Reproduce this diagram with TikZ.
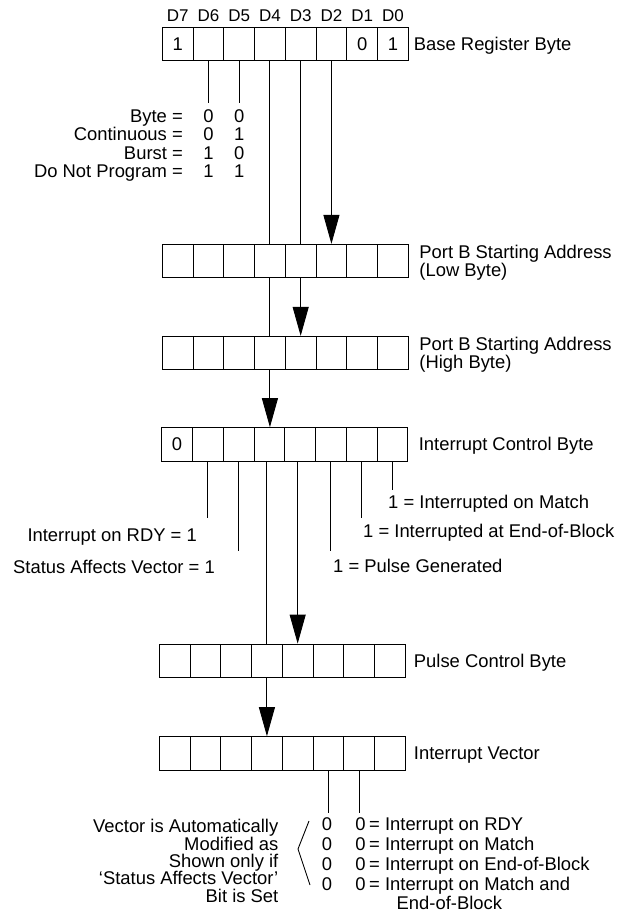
\documentclass[tikz,border=0pt]{standalone}
\usepackage{fontspec}
\setmainfont{Liberation Sans}
\usetikzlibrary{arrows.meta,positioning}

\begin{document}
\begin{tikzpicture}[x=1pt, y=-1pt,
    cell/.style={rectangle, draw, line width=0.9pt, minimum width=30.75pt, minimum height=33.3pt, inner sep=0pt},
    lbl/.style={font=\fontsize{18.4}{18.5}\selectfont, inner sep=0pt, text height=13.2pt, text depth=0pt},
    multi/.style={font=\fontsize{18.4}{18.5}\selectfont, inner sep=0pt},
    bitno/.style={font=\fontsize{17}{17}\selectfont, inner sep=0pt, text height=12.2pt, text depth=0pt},
    link/.style={line width=0.9pt},
    arrow/.style={-{Triangle[length=29pt, width=16pt]}, line width=0.9pt}
]
\useasboundingbox (0,0) rectangle (618,914);

% registers, eight cells each, D7 on the left
\foreach \r/\lx/\cy in {base/162.3/43.6, lowb/162.3/261, highb/162.3/353, intctl/161.7/444.3, pulse/159.3/660.7, vect/159.3/753.3}{
  \foreach \b [count=\k from 0] in {7,...,0}{
    \node[cell] (\r\b) at ({\lx+30.75*(\k+0.5)},\cy) {};
  }
}
\foreach \b in {7,...,0}{\node[bitno] (d\b) at ([yshift=11pt]base\b.north) {D\b};}
\node[lbl] (v7) at (base7) {1};
\node[lbl] (v1) at (base1) {0};
\node[lbl] (v0) at (base0) {1};
\node[lbl] (w7) at (intctl7) {0};

% register names
\node[lbl, right=5pt of base0] (baselbl) {Base Register Byte};
\node[multi, align=left, anchor=base west] (lowlbl) at ([xshift=10.5pt, yshift=-15.85pt]lowb0.east) {Port B Starting Address\\(Low Byte)};
\node[multi, align=left, anchor=base west] (highlbl) at ([xshift=10.5pt, yshift=-15.85pt]highb0.east) {Port B Starting Address\\(High Byte)};
\node[lbl, right=10.5pt of intctl0] (intlbl) {Interrupt Control Byte};
\node[lbl, right=8pt of pulse0] (pulselbl) {Pulse Control Byte};
\node[lbl, right=8pt of vect0] (vectlbl) {Interrupt Vector};

% transfer mode
\foreach \b in {6,5}{
  \coordinate (e\b) at ([yshift=-42pt]base\b.south);
  \draw[link] (base\b.south) -- (e\b);
}
\foreach \m/\a/\c [count=\r] in {Byte/0/0, Continuous/0/1, Burst/1/0, Do Not Program/1/1}{
  \node[lbl, anchor=east] (mode\r) at (183, 97.65+18.35*\r) {\m\ =};
  \node[lbl] (hi\r) at (208.4, 97.65+18.35*\r) {\a};
  \node[lbl] (lo\r) at (239.2, 97.65+18.35*\r) {\c};
}

% follow-on bytes
\draw[link] (base4.south) -- (lowb4.north);
\draw[link] (base3.south) -- (lowb3.north);
\draw[arrow] (base2.south) -- (lowb2.north);
\draw[link] (lowb4.south) -- (highb4.north);
\draw[arrow] (lowb3.south) -- (highb3.north);
\draw[arrow] (highb4.south) -- (highb4.south |- intctl4.north);
\draw[link] (pulse4.north |- intctl4.south) -- (pulse4.north);
\draw[arrow] (pulse3.north |- intctl3.south) -- (pulse3.north);
\draw[arrow] (pulse4.south) -- (vect4.north);

% interrupt control bits
\foreach \b/\d in {6/57, 5/90, 2/90, 1/57, 0/29}{
  \coordinate (ie\b) at ([yshift=-\d pt]intctl\b.south);
  \draw[link] (intctl\b.south) -- (ie\b);
}
\node[lbl, anchor=east] (rdy) at (197,535) {Interrupt on RDY = 1};
\node[lbl, anchor=east] (sav) at (215,567) {Status Affects Vector = 1};
\node[lbl, anchor=west] (pulsegen) at (333,566) {1 = Pulse Generated};
\node[lbl, anchor=west] (eob) at (363,531) {1 = Interrupted at End-of-Block};
\node[lbl, anchor=west] (match) at (388,502) {1 = Interrupted on Match};

% vector bits
\foreach \b in {2,1}{
  \coordinate (ve\b) at ([yshift=-43pt]vect\b.south);
  \draw[link] (vect\b.south) -- (ve\b);
}
\foreach \t [count=\r] in {Vector is Automatically, Modified as, Shown only if, `Status Affects Vector', Bit is Set}{
  \node[lbl, anchor=east] (note\r) at (278.5, 808.6+17.4*\r) {\t};
}
\draw[link] (309,821) -- (298,849) -- (310,885);
\foreach \t [count=\r] in {Interrupt on RDY, Interrupt on Match, Interrupt on End-of-Block, Interrupt on Match and}{
  \node[lbl] (va\r) at (327, 804+20*\r) {0};
  \node[lbl] (vb\r) at (360.5, 804+20*\r) {0};
  \node[lbl, anchor=west] (vt\r) at (369, 804+20*\r) {= \t};
}
\node[lbl, anchor=west] (vt5) at (396.5,903) {End-of-Block};
\end{tikzpicture}
\end{document}
